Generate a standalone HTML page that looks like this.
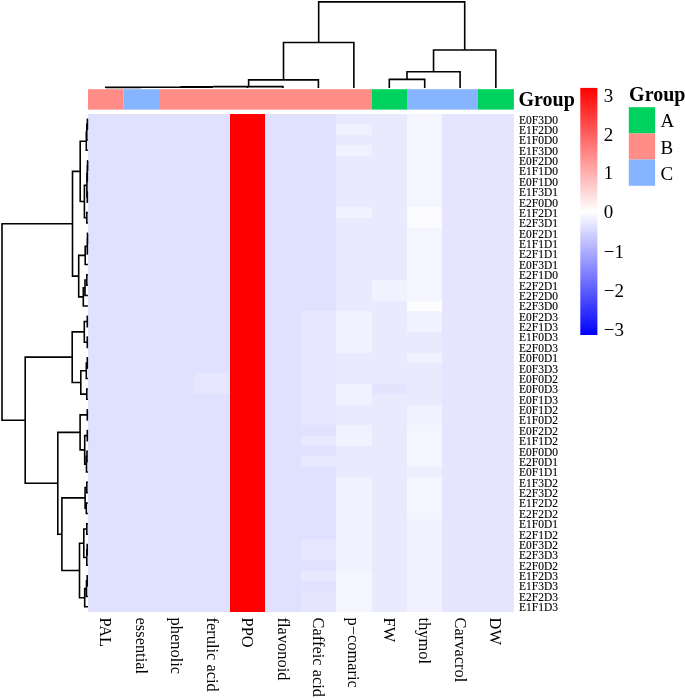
<!DOCTYPE html>
<html><head><meta charset="utf-8"><title>heatmap</title>
<style>
html,body{margin:0;padding:0;background:#fff;}
body{width:685px;height:698px;overflow:hidden;}
svg{display:block;will-change:transform;}
text{font-family:"Liberation Serif",serif;fill:#000;}
.rl{stroke:#000;stroke-width:0.12px;}
</style></head><body>
<svg width="685" height="698" viewBox="0 0 685 698">
<defs>
<linearGradient id="cb" x1="0" y1="0" x2="0" y2="1">
<stop offset="0" stop-color="#ff0000"/>
<stop offset="0.5" stop-color="#ffffff"/>
<stop offset="1" stop-color="#0000ff"/>
</linearGradient>
</defs>
<rect width="685" height="698" fill="#fff"/>

<g shape-rendering="crispEdges">
<rect x="88.00" y="114.00" width="35.55" height="10.43" fill="#e0e0ff"/>
<rect x="123.50" y="114.00" width="35.55" height="10.43" fill="#e0e0ff"/>
<rect x="159.00" y="114.00" width="35.45" height="10.43" fill="#e0e0ff"/>
<rect x="194.40" y="114.00" width="35.45" height="10.43" fill="#e0e0ff"/>
<rect x="229.80" y="114.00" width="35.45" height="10.43" fill="#ff0000"/>
<rect x="265.20" y="114.00" width="35.55" height="10.43" fill="#e0e0ff"/>
<rect x="300.70" y="114.00" width="35.45" height="10.43" fill="#e0e0ff"/>
<rect x="336.10" y="114.00" width="35.55" height="10.43" fill="#e8e8ff"/>
<rect x="371.60" y="114.00" width="35.45" height="10.43" fill="#eaeaff"/>
<rect x="407.00" y="114.00" width="35.45" height="10.43" fill="#f5f5ff"/>
<rect x="442.40" y="114.00" width="35.45" height="10.43" fill="#e5e5ff"/>
<rect x="477.80" y="114.00" width="36.15" height="10.43" fill="#e5e5ff"/>
<rect x="88.00" y="124.38" width="35.55" height="10.43" fill="#e0e0ff"/>
<rect x="123.50" y="124.38" width="35.55" height="10.43" fill="#e0e0ff"/>
<rect x="159.00" y="124.38" width="35.45" height="10.43" fill="#e0e0ff"/>
<rect x="194.40" y="124.38" width="35.45" height="10.43" fill="#e0e0ff"/>
<rect x="229.80" y="124.38" width="35.45" height="10.43" fill="#ff0000"/>
<rect x="265.20" y="124.38" width="35.55" height="10.43" fill="#e0e0ff"/>
<rect x="300.70" y="124.38" width="35.45" height="10.43" fill="#e0e0ff"/>
<rect x="336.10" y="124.38" width="35.55" height="10.43" fill="#f1f1ff"/>
<rect x="371.60" y="124.38" width="35.45" height="10.43" fill="#eaeaff"/>
<rect x="407.00" y="124.38" width="35.45" height="10.43" fill="#f5f5ff"/>
<rect x="442.40" y="124.38" width="35.45" height="10.43" fill="#e5e5ff"/>
<rect x="477.80" y="124.38" width="36.15" height="10.43" fill="#e5e5ff"/>
<rect x="88.00" y="134.75" width="35.55" height="10.43" fill="#e0e0ff"/>
<rect x="123.50" y="134.75" width="35.55" height="10.43" fill="#e0e0ff"/>
<rect x="159.00" y="134.75" width="35.45" height="10.43" fill="#e0e0ff"/>
<rect x="194.40" y="134.75" width="35.45" height="10.43" fill="#e0e0ff"/>
<rect x="229.80" y="134.75" width="35.45" height="10.43" fill="#ff0000"/>
<rect x="265.20" y="134.75" width="35.55" height="10.43" fill="#e0e0ff"/>
<rect x="300.70" y="134.75" width="35.45" height="10.43" fill="#e0e0ff"/>
<rect x="336.10" y="134.75" width="35.55" height="10.43" fill="#eaeaff"/>
<rect x="371.60" y="134.75" width="35.45" height="10.43" fill="#eaeaff"/>
<rect x="407.00" y="134.75" width="35.45" height="10.43" fill="#f5f5ff"/>
<rect x="442.40" y="134.75" width="35.45" height="10.43" fill="#e5e5ff"/>
<rect x="477.80" y="134.75" width="36.15" height="10.43" fill="#e5e5ff"/>
<rect x="88.00" y="145.12" width="35.55" height="10.43" fill="#e0e0ff"/>
<rect x="123.50" y="145.12" width="35.55" height="10.43" fill="#e0e0ff"/>
<rect x="159.00" y="145.12" width="35.45" height="10.43" fill="#e0e0ff"/>
<rect x="194.40" y="145.12" width="35.45" height="10.43" fill="#e0e0ff"/>
<rect x="229.80" y="145.12" width="35.45" height="10.43" fill="#ff0000"/>
<rect x="265.20" y="145.12" width="35.55" height="10.43" fill="#e0e0ff"/>
<rect x="300.70" y="145.12" width="35.45" height="10.43" fill="#e0e0ff"/>
<rect x="336.10" y="145.12" width="35.55" height="10.43" fill="#f1f1ff"/>
<rect x="371.60" y="145.12" width="35.45" height="10.43" fill="#eaeaff"/>
<rect x="407.00" y="145.12" width="35.45" height="10.43" fill="#f5f5ff"/>
<rect x="442.40" y="145.12" width="35.45" height="10.43" fill="#e5e5ff"/>
<rect x="477.80" y="145.12" width="36.15" height="10.43" fill="#e5e5ff"/>
<rect x="88.00" y="155.50" width="35.55" height="10.43" fill="#e0e0ff"/>
<rect x="123.50" y="155.50" width="35.55" height="10.43" fill="#e0e0ff"/>
<rect x="159.00" y="155.50" width="35.45" height="10.43" fill="#e0e0ff"/>
<rect x="194.40" y="155.50" width="35.45" height="10.43" fill="#e0e0ff"/>
<rect x="229.80" y="155.50" width="35.45" height="10.43" fill="#ff0000"/>
<rect x="265.20" y="155.50" width="35.55" height="10.43" fill="#e0e0ff"/>
<rect x="300.70" y="155.50" width="35.45" height="10.43" fill="#e0e0ff"/>
<rect x="336.10" y="155.50" width="35.55" height="10.43" fill="#eaeaff"/>
<rect x="371.60" y="155.50" width="35.45" height="10.43" fill="#eaeaff"/>
<rect x="407.00" y="155.50" width="35.45" height="10.43" fill="#f5f5ff"/>
<rect x="442.40" y="155.50" width="35.45" height="10.43" fill="#e5e5ff"/>
<rect x="477.80" y="155.50" width="36.15" height="10.43" fill="#e5e5ff"/>
<rect x="88.00" y="165.88" width="35.55" height="10.43" fill="#e0e0ff"/>
<rect x="123.50" y="165.88" width="35.55" height="10.43" fill="#e0e0ff"/>
<rect x="159.00" y="165.88" width="35.45" height="10.43" fill="#e0e0ff"/>
<rect x="194.40" y="165.88" width="35.45" height="10.43" fill="#e0e0ff"/>
<rect x="229.80" y="165.88" width="35.45" height="10.43" fill="#ff0000"/>
<rect x="265.20" y="165.88" width="35.55" height="10.43" fill="#e0e0ff"/>
<rect x="300.70" y="165.88" width="35.45" height="10.43" fill="#e0e0ff"/>
<rect x="336.10" y="165.88" width="35.55" height="10.43" fill="#eaeaff"/>
<rect x="371.60" y="165.88" width="35.45" height="10.43" fill="#eaeaff"/>
<rect x="407.00" y="165.88" width="35.45" height="10.43" fill="#f5f5ff"/>
<rect x="442.40" y="165.88" width="35.45" height="10.43" fill="#e5e5ff"/>
<rect x="477.80" y="165.88" width="36.15" height="10.43" fill="#e5e5ff"/>
<rect x="88.00" y="176.25" width="35.55" height="10.43" fill="#e0e0ff"/>
<rect x="123.50" y="176.25" width="35.55" height="10.43" fill="#e0e0ff"/>
<rect x="159.00" y="176.25" width="35.45" height="10.43" fill="#e0e0ff"/>
<rect x="194.40" y="176.25" width="35.45" height="10.43" fill="#e0e0ff"/>
<rect x="229.80" y="176.25" width="35.45" height="10.43" fill="#ff0000"/>
<rect x="265.20" y="176.25" width="35.55" height="10.43" fill="#e0e0ff"/>
<rect x="300.70" y="176.25" width="35.45" height="10.43" fill="#e0e0ff"/>
<rect x="336.10" y="176.25" width="35.55" height="10.43" fill="#eaeaff"/>
<rect x="371.60" y="176.25" width="35.45" height="10.43" fill="#eaeaff"/>
<rect x="407.00" y="176.25" width="35.45" height="10.43" fill="#f5f5ff"/>
<rect x="442.40" y="176.25" width="35.45" height="10.43" fill="#e5e5ff"/>
<rect x="477.80" y="176.25" width="36.15" height="10.43" fill="#e5e5ff"/>
<rect x="88.00" y="186.62" width="35.55" height="10.43" fill="#e0e0ff"/>
<rect x="123.50" y="186.62" width="35.55" height="10.43" fill="#e0e0ff"/>
<rect x="159.00" y="186.62" width="35.45" height="10.43" fill="#e0e0ff"/>
<rect x="194.40" y="186.62" width="35.45" height="10.43" fill="#e0e0ff"/>
<rect x="229.80" y="186.62" width="35.45" height="10.43" fill="#ff0000"/>
<rect x="265.20" y="186.62" width="35.55" height="10.43" fill="#e0e0ff"/>
<rect x="300.70" y="186.62" width="35.45" height="10.43" fill="#e0e0ff"/>
<rect x="336.10" y="186.62" width="35.55" height="10.43" fill="#eaeaff"/>
<rect x="371.60" y="186.62" width="35.45" height="10.43" fill="#eaeaff"/>
<rect x="407.00" y="186.62" width="35.45" height="10.43" fill="#f5f5ff"/>
<rect x="442.40" y="186.62" width="35.45" height="10.43" fill="#e5e5ff"/>
<rect x="477.80" y="186.62" width="36.15" height="10.43" fill="#e5e5ff"/>
<rect x="88.00" y="197.00" width="35.55" height="10.43" fill="#e0e0ff"/>
<rect x="123.50" y="197.00" width="35.55" height="10.43" fill="#e0e0ff"/>
<rect x="159.00" y="197.00" width="35.45" height="10.43" fill="#e0e0ff"/>
<rect x="194.40" y="197.00" width="35.45" height="10.43" fill="#e0e0ff"/>
<rect x="229.80" y="197.00" width="35.45" height="10.43" fill="#ff0000"/>
<rect x="265.20" y="197.00" width="35.55" height="10.43" fill="#e0e0ff"/>
<rect x="300.70" y="197.00" width="35.45" height="10.43" fill="#e0e0ff"/>
<rect x="336.10" y="197.00" width="35.55" height="10.43" fill="#eaeaff"/>
<rect x="371.60" y="197.00" width="35.45" height="10.43" fill="#eaeaff"/>
<rect x="407.00" y="197.00" width="35.45" height="10.43" fill="#f5f5ff"/>
<rect x="442.40" y="197.00" width="35.45" height="10.43" fill="#e5e5ff"/>
<rect x="477.80" y="197.00" width="36.15" height="10.43" fill="#e5e5ff"/>
<rect x="88.00" y="207.38" width="35.55" height="10.43" fill="#e0e0ff"/>
<rect x="123.50" y="207.38" width="35.55" height="10.43" fill="#e0e0ff"/>
<rect x="159.00" y="207.38" width="35.45" height="10.43" fill="#e0e0ff"/>
<rect x="194.40" y="207.38" width="35.45" height="10.43" fill="#e0e0ff"/>
<rect x="229.80" y="207.38" width="35.45" height="10.43" fill="#ff0000"/>
<rect x="265.20" y="207.38" width="35.55" height="10.43" fill="#e0e0ff"/>
<rect x="300.70" y="207.38" width="35.45" height="10.43" fill="#e0e0ff"/>
<rect x="336.10" y="207.38" width="35.55" height="10.43" fill="#f1f1ff"/>
<rect x="371.60" y="207.38" width="35.45" height="10.43" fill="#eaeaff"/>
<rect x="407.00" y="207.38" width="35.45" height="10.43" fill="#fbfbff"/>
<rect x="442.40" y="207.38" width="35.45" height="10.43" fill="#e5e5ff"/>
<rect x="477.80" y="207.38" width="36.15" height="10.43" fill="#e5e5ff"/>
<rect x="88.00" y="217.75" width="35.55" height="10.43" fill="#e0e0ff"/>
<rect x="123.50" y="217.75" width="35.55" height="10.43" fill="#e0e0ff"/>
<rect x="159.00" y="217.75" width="35.45" height="10.43" fill="#e0e0ff"/>
<rect x="194.40" y="217.75" width="35.45" height="10.43" fill="#e0e0ff"/>
<rect x="229.80" y="217.75" width="35.45" height="10.43" fill="#ff0000"/>
<rect x="265.20" y="217.75" width="35.55" height="10.43" fill="#e0e0ff"/>
<rect x="300.70" y="217.75" width="35.45" height="10.43" fill="#e0e0ff"/>
<rect x="336.10" y="217.75" width="35.55" height="10.43" fill="#eaeaff"/>
<rect x="371.60" y="217.75" width="35.45" height="10.43" fill="#eaeaff"/>
<rect x="407.00" y="217.75" width="35.45" height="10.43" fill="#fbfbff"/>
<rect x="442.40" y="217.75" width="35.45" height="10.43" fill="#e5e5ff"/>
<rect x="477.80" y="217.75" width="36.15" height="10.43" fill="#e5e5ff"/>
<rect x="88.00" y="228.12" width="35.55" height="10.43" fill="#e0e0ff"/>
<rect x="123.50" y="228.12" width="35.55" height="10.43" fill="#e0e0ff"/>
<rect x="159.00" y="228.12" width="35.45" height="10.43" fill="#e0e0ff"/>
<rect x="194.40" y="228.12" width="35.45" height="10.43" fill="#e0e0ff"/>
<rect x="229.80" y="228.12" width="35.45" height="10.43" fill="#ff0000"/>
<rect x="265.20" y="228.12" width="35.55" height="10.43" fill="#e0e0ff"/>
<rect x="300.70" y="228.12" width="35.45" height="10.43" fill="#e0e0ff"/>
<rect x="336.10" y="228.12" width="35.55" height="10.43" fill="#eaeaff"/>
<rect x="371.60" y="228.12" width="35.45" height="10.43" fill="#eaeaff"/>
<rect x="407.00" y="228.12" width="35.45" height="10.43" fill="#f5f5ff"/>
<rect x="442.40" y="228.12" width="35.45" height="10.43" fill="#e5e5ff"/>
<rect x="477.80" y="228.12" width="36.15" height="10.43" fill="#e5e5ff"/>
<rect x="88.00" y="238.50" width="35.55" height="10.43" fill="#e0e0ff"/>
<rect x="123.50" y="238.50" width="35.55" height="10.43" fill="#e0e0ff"/>
<rect x="159.00" y="238.50" width="35.45" height="10.43" fill="#e0e0ff"/>
<rect x="194.40" y="238.50" width="35.45" height="10.43" fill="#e0e0ff"/>
<rect x="229.80" y="238.50" width="35.45" height="10.43" fill="#ff0000"/>
<rect x="265.20" y="238.50" width="35.55" height="10.43" fill="#e0e0ff"/>
<rect x="300.70" y="238.50" width="35.45" height="10.43" fill="#e0e0ff"/>
<rect x="336.10" y="238.50" width="35.55" height="10.43" fill="#eaeaff"/>
<rect x="371.60" y="238.50" width="35.45" height="10.43" fill="#eaeaff"/>
<rect x="407.00" y="238.50" width="35.45" height="10.43" fill="#f5f5ff"/>
<rect x="442.40" y="238.50" width="35.45" height="10.43" fill="#e5e5ff"/>
<rect x="477.80" y="238.50" width="36.15" height="10.43" fill="#e5e5ff"/>
<rect x="88.00" y="248.88" width="35.55" height="10.43" fill="#e0e0ff"/>
<rect x="123.50" y="248.88" width="35.55" height="10.43" fill="#e0e0ff"/>
<rect x="159.00" y="248.88" width="35.45" height="10.43" fill="#e0e0ff"/>
<rect x="194.40" y="248.88" width="35.45" height="10.43" fill="#e0e0ff"/>
<rect x="229.80" y="248.88" width="35.45" height="10.43" fill="#ff0000"/>
<rect x="265.20" y="248.88" width="35.55" height="10.43" fill="#e0e0ff"/>
<rect x="300.70" y="248.88" width="35.45" height="10.43" fill="#e0e0ff"/>
<rect x="336.10" y="248.88" width="35.55" height="10.43" fill="#eaeaff"/>
<rect x="371.60" y="248.88" width="35.45" height="10.43" fill="#eaeaff"/>
<rect x="407.00" y="248.88" width="35.45" height="10.43" fill="#f5f5ff"/>
<rect x="442.40" y="248.88" width="35.45" height="10.43" fill="#e5e5ff"/>
<rect x="477.80" y="248.88" width="36.15" height="10.43" fill="#e5e5ff"/>
<rect x="88.00" y="259.25" width="35.55" height="10.43" fill="#e0e0ff"/>
<rect x="123.50" y="259.25" width="35.55" height="10.43" fill="#e0e0ff"/>
<rect x="159.00" y="259.25" width="35.45" height="10.43" fill="#e0e0ff"/>
<rect x="194.40" y="259.25" width="35.45" height="10.43" fill="#e0e0ff"/>
<rect x="229.80" y="259.25" width="35.45" height="10.43" fill="#ff0000"/>
<rect x="265.20" y="259.25" width="35.55" height="10.43" fill="#e0e0ff"/>
<rect x="300.70" y="259.25" width="35.45" height="10.43" fill="#e0e0ff"/>
<rect x="336.10" y="259.25" width="35.55" height="10.43" fill="#eaeaff"/>
<rect x="371.60" y="259.25" width="35.45" height="10.43" fill="#eaeaff"/>
<rect x="407.00" y="259.25" width="35.45" height="10.43" fill="#f5f5ff"/>
<rect x="442.40" y="259.25" width="35.45" height="10.43" fill="#e5e5ff"/>
<rect x="477.80" y="259.25" width="36.15" height="10.43" fill="#e5e5ff"/>
<rect x="88.00" y="269.62" width="35.55" height="10.43" fill="#e0e0ff"/>
<rect x="123.50" y="269.62" width="35.55" height="10.43" fill="#e0e0ff"/>
<rect x="159.00" y="269.62" width="35.45" height="10.43" fill="#e0e0ff"/>
<rect x="194.40" y="269.62" width="35.45" height="10.43" fill="#e0e0ff"/>
<rect x="229.80" y="269.62" width="35.45" height="10.43" fill="#ff0000"/>
<rect x="265.20" y="269.62" width="35.55" height="10.43" fill="#e0e0ff"/>
<rect x="300.70" y="269.62" width="35.45" height="10.43" fill="#e0e0ff"/>
<rect x="336.10" y="269.62" width="35.55" height="10.43" fill="#eaeaff"/>
<rect x="371.60" y="269.62" width="35.45" height="10.43" fill="#eaeaff"/>
<rect x="407.00" y="269.62" width="35.45" height="10.43" fill="#f5f5ff"/>
<rect x="442.40" y="269.62" width="35.45" height="10.43" fill="#e5e5ff"/>
<rect x="477.80" y="269.62" width="36.15" height="10.43" fill="#e5e5ff"/>
<rect x="88.00" y="280.00" width="35.55" height="10.43" fill="#e0e0ff"/>
<rect x="123.50" y="280.00" width="35.55" height="10.43" fill="#e0e0ff"/>
<rect x="159.00" y="280.00" width="35.45" height="10.43" fill="#e0e0ff"/>
<rect x="194.40" y="280.00" width="35.45" height="10.43" fill="#e0e0ff"/>
<rect x="229.80" y="280.00" width="35.45" height="10.43" fill="#ff0000"/>
<rect x="265.20" y="280.00" width="35.55" height="10.43" fill="#e0e0ff"/>
<rect x="300.70" y="280.00" width="35.45" height="10.43" fill="#e0e0ff"/>
<rect x="336.10" y="280.00" width="35.55" height="10.43" fill="#eaeaff"/>
<rect x="371.60" y="280.00" width="35.45" height="10.43" fill="#f1f1ff"/>
<rect x="407.00" y="280.00" width="35.45" height="10.43" fill="#f5f5ff"/>
<rect x="442.40" y="280.00" width="35.45" height="10.43" fill="#e5e5ff"/>
<rect x="477.80" y="280.00" width="36.15" height="10.43" fill="#e5e5ff"/>
<rect x="88.00" y="290.38" width="35.55" height="10.43" fill="#e0e0ff"/>
<rect x="123.50" y="290.38" width="35.55" height="10.43" fill="#e0e0ff"/>
<rect x="159.00" y="290.38" width="35.45" height="10.43" fill="#e0e0ff"/>
<rect x="194.40" y="290.38" width="35.45" height="10.43" fill="#e0e0ff"/>
<rect x="229.80" y="290.38" width="35.45" height="10.43" fill="#ff0000"/>
<rect x="265.20" y="290.38" width="35.55" height="10.43" fill="#e0e0ff"/>
<rect x="300.70" y="290.38" width="35.45" height="10.43" fill="#e0e0ff"/>
<rect x="336.10" y="290.38" width="35.55" height="10.43" fill="#eaeaff"/>
<rect x="371.60" y="290.38" width="35.45" height="10.43" fill="#f1f1ff"/>
<rect x="407.00" y="290.38" width="35.45" height="10.43" fill="#f5f5ff"/>
<rect x="442.40" y="290.38" width="35.45" height="10.43" fill="#e5e5ff"/>
<rect x="477.80" y="290.38" width="36.15" height="10.43" fill="#e5e5ff"/>
<rect x="88.00" y="300.75" width="35.55" height="10.43" fill="#e0e0ff"/>
<rect x="123.50" y="300.75" width="35.55" height="10.43" fill="#e0e0ff"/>
<rect x="159.00" y="300.75" width="35.45" height="10.43" fill="#e0e0ff"/>
<rect x="194.40" y="300.75" width="35.45" height="10.43" fill="#e0e0ff"/>
<rect x="229.80" y="300.75" width="35.45" height="10.43" fill="#ff0000"/>
<rect x="265.20" y="300.75" width="35.55" height="10.43" fill="#e0e0ff"/>
<rect x="300.70" y="300.75" width="35.45" height="10.43" fill="#e0e0ff"/>
<rect x="336.10" y="300.75" width="35.55" height="10.43" fill="#eaeaff"/>
<rect x="371.60" y="300.75" width="35.45" height="10.43" fill="#eaeaff"/>
<rect x="407.00" y="300.75" width="35.45" height="10.43" fill="#fdfdff"/>
<rect x="442.40" y="300.75" width="35.45" height="10.43" fill="#e5e5ff"/>
<rect x="477.80" y="300.75" width="36.15" height="10.43" fill="#e5e5ff"/>
<rect x="88.00" y="311.12" width="35.55" height="10.43" fill="#e0e0ff"/>
<rect x="123.50" y="311.12" width="35.55" height="10.43" fill="#e0e0ff"/>
<rect x="159.00" y="311.12" width="35.45" height="10.43" fill="#e0e0ff"/>
<rect x="194.40" y="311.12" width="35.45" height="10.43" fill="#e0e0ff"/>
<rect x="229.80" y="311.12" width="35.45" height="10.43" fill="#ff0000"/>
<rect x="265.20" y="311.12" width="35.55" height="10.43" fill="#e0e0ff"/>
<rect x="300.70" y="311.12" width="35.45" height="10.43" fill="#e6e6ff"/>
<rect x="336.10" y="311.12" width="35.55" height="10.43" fill="#f1f1ff"/>
<rect x="371.60" y="311.12" width="35.45" height="10.43" fill="#eaeaff"/>
<rect x="407.00" y="311.12" width="35.45" height="10.43" fill="#f1f1ff"/>
<rect x="442.40" y="311.12" width="35.45" height="10.43" fill="#e5e5ff"/>
<rect x="477.80" y="311.12" width="36.15" height="10.43" fill="#e5e5ff"/>
<rect x="88.00" y="321.50" width="35.55" height="10.43" fill="#e0e0ff"/>
<rect x="123.50" y="321.50" width="35.55" height="10.43" fill="#e0e0ff"/>
<rect x="159.00" y="321.50" width="35.45" height="10.43" fill="#e0e0ff"/>
<rect x="194.40" y="321.50" width="35.45" height="10.43" fill="#e0e0ff"/>
<rect x="229.80" y="321.50" width="35.45" height="10.43" fill="#ff0000"/>
<rect x="265.20" y="321.50" width="35.55" height="10.43" fill="#e0e0ff"/>
<rect x="300.70" y="321.50" width="35.45" height="10.43" fill="#e6e6ff"/>
<rect x="336.10" y="321.50" width="35.55" height="10.43" fill="#f1f1ff"/>
<rect x="371.60" y="321.50" width="35.45" height="10.43" fill="#eaeaff"/>
<rect x="407.00" y="321.50" width="35.45" height="10.43" fill="#f1f1ff"/>
<rect x="442.40" y="321.50" width="35.45" height="10.43" fill="#e5e5ff"/>
<rect x="477.80" y="321.50" width="36.15" height="10.43" fill="#e5e5ff"/>
<rect x="88.00" y="331.88" width="35.55" height="10.43" fill="#e0e0ff"/>
<rect x="123.50" y="331.88" width="35.55" height="10.43" fill="#e0e0ff"/>
<rect x="159.00" y="331.88" width="35.45" height="10.43" fill="#e0e0ff"/>
<rect x="194.40" y="331.88" width="35.45" height="10.43" fill="#e0e0ff"/>
<rect x="229.80" y="331.88" width="35.45" height="10.43" fill="#ff0000"/>
<rect x="265.20" y="331.88" width="35.55" height="10.43" fill="#e0e0ff"/>
<rect x="300.70" y="331.88" width="35.45" height="10.43" fill="#e6e6ff"/>
<rect x="336.10" y="331.88" width="35.55" height="10.43" fill="#f1f1ff"/>
<rect x="371.60" y="331.88" width="35.45" height="10.43" fill="#eaeaff"/>
<rect x="407.00" y="331.88" width="35.45" height="10.43" fill="#eaeaff"/>
<rect x="442.40" y="331.88" width="35.45" height="10.43" fill="#e5e5ff"/>
<rect x="477.80" y="331.88" width="36.15" height="10.43" fill="#e5e5ff"/>
<rect x="88.00" y="342.25" width="35.55" height="10.43" fill="#e0e0ff"/>
<rect x="123.50" y="342.25" width="35.55" height="10.43" fill="#e0e0ff"/>
<rect x="159.00" y="342.25" width="35.45" height="10.43" fill="#e0e0ff"/>
<rect x="194.40" y="342.25" width="35.45" height="10.43" fill="#e0e0ff"/>
<rect x="229.80" y="342.25" width="35.45" height="10.43" fill="#ff0000"/>
<rect x="265.20" y="342.25" width="35.55" height="10.43" fill="#e0e0ff"/>
<rect x="300.70" y="342.25" width="35.45" height="10.43" fill="#e6e6ff"/>
<rect x="336.10" y="342.25" width="35.55" height="10.43" fill="#f1f1ff"/>
<rect x="371.60" y="342.25" width="35.45" height="10.43" fill="#eaeaff"/>
<rect x="407.00" y="342.25" width="35.45" height="10.43" fill="#eaeaff"/>
<rect x="442.40" y="342.25" width="35.45" height="10.43" fill="#e5e5ff"/>
<rect x="477.80" y="342.25" width="36.15" height="10.43" fill="#e5e5ff"/>
<rect x="88.00" y="352.62" width="35.55" height="10.43" fill="#e0e0ff"/>
<rect x="123.50" y="352.62" width="35.55" height="10.43" fill="#e0e0ff"/>
<rect x="159.00" y="352.62" width="35.45" height="10.43" fill="#e0e0ff"/>
<rect x="194.40" y="352.62" width="35.45" height="10.43" fill="#e0e0ff"/>
<rect x="229.80" y="352.62" width="35.45" height="10.43" fill="#ff0000"/>
<rect x="265.20" y="352.62" width="35.55" height="10.43" fill="#e0e0ff"/>
<rect x="300.70" y="352.62" width="35.45" height="10.43" fill="#e6e6ff"/>
<rect x="336.10" y="352.62" width="35.55" height="10.43" fill="#eaeaff"/>
<rect x="371.60" y="352.62" width="35.45" height="10.43" fill="#eaeaff"/>
<rect x="407.00" y="352.62" width="35.45" height="10.43" fill="#f2f2ff"/>
<rect x="442.40" y="352.62" width="35.45" height="10.43" fill="#e5e5ff"/>
<rect x="477.80" y="352.62" width="36.15" height="10.43" fill="#e5e5ff"/>
<rect x="88.00" y="363.00" width="35.55" height="10.43" fill="#e0e0ff"/>
<rect x="123.50" y="363.00" width="35.55" height="10.43" fill="#e0e0ff"/>
<rect x="159.00" y="363.00" width="35.45" height="10.43" fill="#e0e0ff"/>
<rect x="194.40" y="363.00" width="35.45" height="10.43" fill="#e0e0ff"/>
<rect x="229.80" y="363.00" width="35.45" height="10.43" fill="#ff0000"/>
<rect x="265.20" y="363.00" width="35.55" height="10.43" fill="#e0e0ff"/>
<rect x="300.70" y="363.00" width="35.45" height="10.43" fill="#e6e6ff"/>
<rect x="336.10" y="363.00" width="35.55" height="10.43" fill="#eaeaff"/>
<rect x="371.60" y="363.00" width="35.45" height="10.43" fill="#eaeaff"/>
<rect x="407.00" y="363.00" width="35.45" height="10.43" fill="#eaeaff"/>
<rect x="442.40" y="363.00" width="35.45" height="10.43" fill="#e5e5ff"/>
<rect x="477.80" y="363.00" width="36.15" height="10.43" fill="#e5e5ff"/>
<rect x="88.00" y="373.38" width="35.55" height="10.43" fill="#e0e0ff"/>
<rect x="123.50" y="373.38" width="35.55" height="10.43" fill="#e0e0ff"/>
<rect x="159.00" y="373.38" width="35.45" height="10.43" fill="#e0e0ff"/>
<rect x="194.40" y="373.38" width="35.45" height="10.43" fill="#e6e6ff"/>
<rect x="229.80" y="373.38" width="35.45" height="10.43" fill="#ff0000"/>
<rect x="265.20" y="373.38" width="35.55" height="10.43" fill="#e0e0ff"/>
<rect x="300.70" y="373.38" width="35.45" height="10.43" fill="#e6e6ff"/>
<rect x="336.10" y="373.38" width="35.55" height="10.43" fill="#eaeaff"/>
<rect x="371.60" y="373.38" width="35.45" height="10.43" fill="#eaeaff"/>
<rect x="407.00" y="373.38" width="35.45" height="10.43" fill="#eaeaff"/>
<rect x="442.40" y="373.38" width="35.45" height="10.43" fill="#e5e5ff"/>
<rect x="477.80" y="373.38" width="36.15" height="10.43" fill="#e5e5ff"/>
<rect x="88.00" y="383.75" width="35.55" height="10.43" fill="#e0e0ff"/>
<rect x="123.50" y="383.75" width="35.55" height="10.43" fill="#e0e0ff"/>
<rect x="159.00" y="383.75" width="35.45" height="10.43" fill="#e0e0ff"/>
<rect x="194.40" y="383.75" width="35.45" height="10.43" fill="#e6e6ff"/>
<rect x="229.80" y="383.75" width="35.45" height="10.43" fill="#ff0000"/>
<rect x="265.20" y="383.75" width="35.55" height="10.43" fill="#e0e0ff"/>
<rect x="300.70" y="383.75" width="35.45" height="10.43" fill="#e6e6ff"/>
<rect x="336.10" y="383.75" width="35.55" height="10.43" fill="#f1f1ff"/>
<rect x="371.60" y="383.75" width="35.45" height="10.43" fill="#e4e4ff"/>
<rect x="407.00" y="383.75" width="35.45" height="10.43" fill="#eaeaff"/>
<rect x="442.40" y="383.75" width="35.45" height="10.43" fill="#e5e5ff"/>
<rect x="477.80" y="383.75" width="36.15" height="10.43" fill="#e5e5ff"/>
<rect x="88.00" y="394.12" width="35.55" height="10.43" fill="#e0e0ff"/>
<rect x="123.50" y="394.12" width="35.55" height="10.43" fill="#e0e0ff"/>
<rect x="159.00" y="394.12" width="35.45" height="10.43" fill="#e0e0ff"/>
<rect x="194.40" y="394.12" width="35.45" height="10.43" fill="#e0e0ff"/>
<rect x="229.80" y="394.12" width="35.45" height="10.43" fill="#ff0000"/>
<rect x="265.20" y="394.12" width="35.55" height="10.43" fill="#e0e0ff"/>
<rect x="300.70" y="394.12" width="35.45" height="10.43" fill="#e6e6ff"/>
<rect x="336.10" y="394.12" width="35.55" height="10.43" fill="#f1f1ff"/>
<rect x="371.60" y="394.12" width="35.45" height="10.43" fill="#eaeaff"/>
<rect x="407.00" y="394.12" width="35.45" height="10.43" fill="#eaeaff"/>
<rect x="442.40" y="394.12" width="35.45" height="10.43" fill="#e5e5ff"/>
<rect x="477.80" y="394.12" width="36.15" height="10.43" fill="#e5e5ff"/>
<rect x="88.00" y="404.50" width="35.55" height="10.43" fill="#e0e0ff"/>
<rect x="123.50" y="404.50" width="35.55" height="10.43" fill="#e0e0ff"/>
<rect x="159.00" y="404.50" width="35.45" height="10.43" fill="#e0e0ff"/>
<rect x="194.40" y="404.50" width="35.45" height="10.43" fill="#e0e0ff"/>
<rect x="229.80" y="404.50" width="35.45" height="10.43" fill="#ff0000"/>
<rect x="265.20" y="404.50" width="35.55" height="10.43" fill="#e0e0ff"/>
<rect x="300.70" y="404.50" width="35.45" height="10.43" fill="#e6e6ff"/>
<rect x="336.10" y="404.50" width="35.55" height="10.43" fill="#eaeaff"/>
<rect x="371.60" y="404.50" width="35.45" height="10.43" fill="#eaeaff"/>
<rect x="407.00" y="404.50" width="35.45" height="10.43" fill="#f1f1ff"/>
<rect x="442.40" y="404.50" width="35.45" height="10.43" fill="#e5e5ff"/>
<rect x="477.80" y="404.50" width="36.15" height="10.43" fill="#e5e5ff"/>
<rect x="88.00" y="414.88" width="35.55" height="10.43" fill="#e0e0ff"/>
<rect x="123.50" y="414.88" width="35.55" height="10.43" fill="#e0e0ff"/>
<rect x="159.00" y="414.88" width="35.45" height="10.43" fill="#e0e0ff"/>
<rect x="194.40" y="414.88" width="35.45" height="10.43" fill="#e0e0ff"/>
<rect x="229.80" y="414.88" width="35.45" height="10.43" fill="#ff0000"/>
<rect x="265.20" y="414.88" width="35.55" height="10.43" fill="#e0e0ff"/>
<rect x="300.70" y="414.88" width="35.45" height="10.43" fill="#e6e6ff"/>
<rect x="336.10" y="414.88" width="35.55" height="10.43" fill="#eaeaff"/>
<rect x="371.60" y="414.88" width="35.45" height="10.43" fill="#eaeaff"/>
<rect x="407.00" y="414.88" width="35.45" height="10.43" fill="#f1f1ff"/>
<rect x="442.40" y="414.88" width="35.45" height="10.43" fill="#e5e5ff"/>
<rect x="477.80" y="414.88" width="36.15" height="10.43" fill="#e5e5ff"/>
<rect x="88.00" y="425.25" width="35.55" height="10.43" fill="#e0e0ff"/>
<rect x="123.50" y="425.25" width="35.55" height="10.43" fill="#e0e0ff"/>
<rect x="159.00" y="425.25" width="35.45" height="10.43" fill="#e0e0ff"/>
<rect x="194.40" y="425.25" width="35.45" height="10.43" fill="#e0e0ff"/>
<rect x="229.80" y="425.25" width="35.45" height="10.43" fill="#ff0000"/>
<rect x="265.20" y="425.25" width="35.55" height="10.43" fill="#e0e0ff"/>
<rect x="300.70" y="425.25" width="35.45" height="10.43" fill="#e2e2ff"/>
<rect x="336.10" y="425.25" width="35.55" height="10.43" fill="#f1f1ff"/>
<rect x="371.60" y="425.25" width="35.45" height="10.43" fill="#eaeaff"/>
<rect x="407.00" y="425.25" width="35.45" height="10.43" fill="#f5f5ff"/>
<rect x="442.40" y="425.25" width="35.45" height="10.43" fill="#e5e5ff"/>
<rect x="477.80" y="425.25" width="36.15" height="10.43" fill="#e5e5ff"/>
<rect x="88.00" y="435.62" width="35.55" height="10.43" fill="#e0e0ff"/>
<rect x="123.50" y="435.62" width="35.55" height="10.43" fill="#e0e0ff"/>
<rect x="159.00" y="435.62" width="35.45" height="10.43" fill="#e0e0ff"/>
<rect x="194.40" y="435.62" width="35.45" height="10.43" fill="#e0e0ff"/>
<rect x="229.80" y="435.62" width="35.45" height="10.43" fill="#ff0000"/>
<rect x="265.20" y="435.62" width="35.55" height="10.43" fill="#e0e0ff"/>
<rect x="300.70" y="435.62" width="35.45" height="10.43" fill="#e8e8ff"/>
<rect x="336.10" y="435.62" width="35.55" height="10.43" fill="#f1f1ff"/>
<rect x="371.60" y="435.62" width="35.45" height="10.43" fill="#eaeaff"/>
<rect x="407.00" y="435.62" width="35.45" height="10.43" fill="#f5f5ff"/>
<rect x="442.40" y="435.62" width="35.45" height="10.43" fill="#e5e5ff"/>
<rect x="477.80" y="435.62" width="36.15" height="10.43" fill="#e5e5ff"/>
<rect x="88.00" y="446.00" width="35.55" height="10.43" fill="#e0e0ff"/>
<rect x="123.50" y="446.00" width="35.55" height="10.43" fill="#e0e0ff"/>
<rect x="159.00" y="446.00" width="35.45" height="10.43" fill="#e0e0ff"/>
<rect x="194.40" y="446.00" width="35.45" height="10.43" fill="#e0e0ff"/>
<rect x="229.80" y="446.00" width="35.45" height="10.43" fill="#ff0000"/>
<rect x="265.20" y="446.00" width="35.55" height="10.43" fill="#e0e0ff"/>
<rect x="300.70" y="446.00" width="35.45" height="10.43" fill="#e2e2ff"/>
<rect x="336.10" y="446.00" width="35.55" height="10.43" fill="#eaeaff"/>
<rect x="371.60" y="446.00" width="35.45" height="10.43" fill="#eaeaff"/>
<rect x="407.00" y="446.00" width="35.45" height="10.43" fill="#f5f5ff"/>
<rect x="442.40" y="446.00" width="35.45" height="10.43" fill="#e5e5ff"/>
<rect x="477.80" y="446.00" width="36.15" height="10.43" fill="#e5e5ff"/>
<rect x="88.00" y="456.38" width="35.55" height="10.43" fill="#e0e0ff"/>
<rect x="123.50" y="456.38" width="35.55" height="10.43" fill="#e0e0ff"/>
<rect x="159.00" y="456.38" width="35.45" height="10.43" fill="#e0e0ff"/>
<rect x="194.40" y="456.38" width="35.45" height="10.43" fill="#e0e0ff"/>
<rect x="229.80" y="456.38" width="35.45" height="10.43" fill="#ff0000"/>
<rect x="265.20" y="456.38" width="35.55" height="10.43" fill="#e0e0ff"/>
<rect x="300.70" y="456.38" width="35.45" height="10.43" fill="#e8e8ff"/>
<rect x="336.10" y="456.38" width="35.55" height="10.43" fill="#eaeaff"/>
<rect x="371.60" y="456.38" width="35.45" height="10.43" fill="#eaeaff"/>
<rect x="407.00" y="456.38" width="35.45" height="10.43" fill="#f5f5ff"/>
<rect x="442.40" y="456.38" width="35.45" height="10.43" fill="#e5e5ff"/>
<rect x="477.80" y="456.38" width="36.15" height="10.43" fill="#e5e5ff"/>
<rect x="88.00" y="466.75" width="35.55" height="10.43" fill="#e0e0ff"/>
<rect x="123.50" y="466.75" width="35.55" height="10.43" fill="#e0e0ff"/>
<rect x="159.00" y="466.75" width="35.45" height="10.43" fill="#e0e0ff"/>
<rect x="194.40" y="466.75" width="35.45" height="10.43" fill="#e0e0ff"/>
<rect x="229.80" y="466.75" width="35.45" height="10.43" fill="#ff0000"/>
<rect x="265.20" y="466.75" width="35.55" height="10.43" fill="#e0e0ff"/>
<rect x="300.70" y="466.75" width="35.45" height="10.43" fill="#e0e0ff"/>
<rect x="336.10" y="466.75" width="35.55" height="10.43" fill="#eaeaff"/>
<rect x="371.60" y="466.75" width="35.45" height="10.43" fill="#eaeaff"/>
<rect x="407.00" y="466.75" width="35.45" height="10.43" fill="#eeeeff"/>
<rect x="442.40" y="466.75" width="35.45" height="10.43" fill="#e5e5ff"/>
<rect x="477.80" y="466.75" width="36.15" height="10.43" fill="#e5e5ff"/>
<rect x="88.00" y="477.12" width="35.55" height="10.43" fill="#e0e0ff"/>
<rect x="123.50" y="477.12" width="35.55" height="10.43" fill="#e0e0ff"/>
<rect x="159.00" y="477.12" width="35.45" height="10.43" fill="#e0e0ff"/>
<rect x="194.40" y="477.12" width="35.45" height="10.43" fill="#e0e0ff"/>
<rect x="229.80" y="477.12" width="35.45" height="10.43" fill="#ff0000"/>
<rect x="265.20" y="477.12" width="35.55" height="10.43" fill="#e0e0ff"/>
<rect x="300.70" y="477.12" width="35.45" height="10.43" fill="#e0e0ff"/>
<rect x="336.10" y="477.12" width="35.55" height="10.43" fill="#f1f1ff"/>
<rect x="371.60" y="477.12" width="35.45" height="10.43" fill="#eaeaff"/>
<rect x="407.00" y="477.12" width="35.45" height="10.43" fill="#f5f5ff"/>
<rect x="442.40" y="477.12" width="35.45" height="10.43" fill="#e5e5ff"/>
<rect x="477.80" y="477.12" width="36.15" height="10.43" fill="#e5e5ff"/>
<rect x="88.00" y="487.50" width="35.55" height="10.43" fill="#e0e0ff"/>
<rect x="123.50" y="487.50" width="35.55" height="10.43" fill="#e0e0ff"/>
<rect x="159.00" y="487.50" width="35.45" height="10.43" fill="#e0e0ff"/>
<rect x="194.40" y="487.50" width="35.45" height="10.43" fill="#e0e0ff"/>
<rect x="229.80" y="487.50" width="35.45" height="10.43" fill="#ff0000"/>
<rect x="265.20" y="487.50" width="35.55" height="10.43" fill="#e0e0ff"/>
<rect x="300.70" y="487.50" width="35.45" height="10.43" fill="#e0e0ff"/>
<rect x="336.10" y="487.50" width="35.55" height="10.43" fill="#f1f1ff"/>
<rect x="371.60" y="487.50" width="35.45" height="10.43" fill="#eaeaff"/>
<rect x="407.00" y="487.50" width="35.45" height="10.43" fill="#f5f5ff"/>
<rect x="442.40" y="487.50" width="35.45" height="10.43" fill="#e5e5ff"/>
<rect x="477.80" y="487.50" width="36.15" height="10.43" fill="#e5e5ff"/>
<rect x="88.00" y="497.88" width="35.55" height="10.43" fill="#e0e0ff"/>
<rect x="123.50" y="497.88" width="35.55" height="10.43" fill="#e0e0ff"/>
<rect x="159.00" y="497.88" width="35.45" height="10.43" fill="#e0e0ff"/>
<rect x="194.40" y="497.88" width="35.45" height="10.43" fill="#e0e0ff"/>
<rect x="229.80" y="497.88" width="35.45" height="10.43" fill="#ff0000"/>
<rect x="265.20" y="497.88" width="35.55" height="10.43" fill="#e0e0ff"/>
<rect x="300.70" y="497.88" width="35.45" height="10.43" fill="#e0e0ff"/>
<rect x="336.10" y="497.88" width="35.55" height="10.43" fill="#f1f1ff"/>
<rect x="371.60" y="497.88" width="35.45" height="10.43" fill="#eaeaff"/>
<rect x="407.00" y="497.88" width="35.45" height="10.43" fill="#f5f5ff"/>
<rect x="442.40" y="497.88" width="35.45" height="10.43" fill="#e5e5ff"/>
<rect x="477.80" y="497.88" width="36.15" height="10.43" fill="#e5e5ff"/>
<rect x="88.00" y="508.25" width="35.55" height="10.43" fill="#e0e0ff"/>
<rect x="123.50" y="508.25" width="35.55" height="10.43" fill="#e0e0ff"/>
<rect x="159.00" y="508.25" width="35.45" height="10.43" fill="#e0e0ff"/>
<rect x="194.40" y="508.25" width="35.45" height="10.43" fill="#e0e0ff"/>
<rect x="229.80" y="508.25" width="35.45" height="10.43" fill="#ff0000"/>
<rect x="265.20" y="508.25" width="35.55" height="10.43" fill="#e0e0ff"/>
<rect x="300.70" y="508.25" width="35.45" height="10.43" fill="#e0e0ff"/>
<rect x="336.10" y="508.25" width="35.55" height="10.43" fill="#f1f1ff"/>
<rect x="371.60" y="508.25" width="35.45" height="10.43" fill="#eaeaff"/>
<rect x="407.00" y="508.25" width="35.45" height="10.43" fill="#f5f5ff"/>
<rect x="442.40" y="508.25" width="35.45" height="10.43" fill="#e5e5ff"/>
<rect x="477.80" y="508.25" width="36.15" height="10.43" fill="#e5e5ff"/>
<rect x="88.00" y="518.62" width="35.55" height="10.43" fill="#e0e0ff"/>
<rect x="123.50" y="518.62" width="35.55" height="10.43" fill="#e0e0ff"/>
<rect x="159.00" y="518.62" width="35.45" height="10.43" fill="#e0e0ff"/>
<rect x="194.40" y="518.62" width="35.45" height="10.43" fill="#e0e0ff"/>
<rect x="229.80" y="518.62" width="35.45" height="10.43" fill="#ff0000"/>
<rect x="265.20" y="518.62" width="35.55" height="10.43" fill="#e0e0ff"/>
<rect x="300.70" y="518.62" width="35.45" height="10.43" fill="#e0e0ff"/>
<rect x="336.10" y="518.62" width="35.55" height="10.43" fill="#f1f1ff"/>
<rect x="371.60" y="518.62" width="35.45" height="10.43" fill="#eaeaff"/>
<rect x="407.00" y="518.62" width="35.45" height="10.43" fill="#f1f1ff"/>
<rect x="442.40" y="518.62" width="35.45" height="10.43" fill="#e5e5ff"/>
<rect x="477.80" y="518.62" width="36.15" height="10.43" fill="#e5e5ff"/>
<rect x="88.00" y="529.00" width="35.55" height="10.43" fill="#e0e0ff"/>
<rect x="123.50" y="529.00" width="35.55" height="10.43" fill="#e0e0ff"/>
<rect x="159.00" y="529.00" width="35.45" height="10.43" fill="#e0e0ff"/>
<rect x="194.40" y="529.00" width="35.45" height="10.43" fill="#e0e0ff"/>
<rect x="229.80" y="529.00" width="35.45" height="10.43" fill="#ff0000"/>
<rect x="265.20" y="529.00" width="35.55" height="10.43" fill="#e0e0ff"/>
<rect x="300.70" y="529.00" width="35.45" height="10.43" fill="#e0e0ff"/>
<rect x="336.10" y="529.00" width="35.55" height="10.43" fill="#f1f1ff"/>
<rect x="371.60" y="529.00" width="35.45" height="10.43" fill="#eaeaff"/>
<rect x="407.00" y="529.00" width="35.45" height="10.43" fill="#f1f1ff"/>
<rect x="442.40" y="529.00" width="35.45" height="10.43" fill="#e5e5ff"/>
<rect x="477.80" y="529.00" width="36.15" height="10.43" fill="#e5e5ff"/>
<rect x="88.00" y="539.38" width="35.55" height="10.43" fill="#e0e0ff"/>
<rect x="123.50" y="539.38" width="35.55" height="10.43" fill="#e0e0ff"/>
<rect x="159.00" y="539.38" width="35.45" height="10.43" fill="#e0e0ff"/>
<rect x="194.40" y="539.38" width="35.45" height="10.43" fill="#e0e0ff"/>
<rect x="229.80" y="539.38" width="35.45" height="10.43" fill="#ff0000"/>
<rect x="265.20" y="539.38" width="35.55" height="10.43" fill="#e0e0ff"/>
<rect x="300.70" y="539.38" width="35.45" height="10.43" fill="#e6e6ff"/>
<rect x="336.10" y="539.38" width="35.55" height="10.43" fill="#f1f1ff"/>
<rect x="371.60" y="539.38" width="35.45" height="10.43" fill="#eaeaff"/>
<rect x="407.00" y="539.38" width="35.45" height="10.43" fill="#f1f1ff"/>
<rect x="442.40" y="539.38" width="35.45" height="10.43" fill="#e5e5ff"/>
<rect x="477.80" y="539.38" width="36.15" height="10.43" fill="#e5e5ff"/>
<rect x="88.00" y="549.75" width="35.55" height="10.43" fill="#e0e0ff"/>
<rect x="123.50" y="549.75" width="35.55" height="10.43" fill="#e0e0ff"/>
<rect x="159.00" y="549.75" width="35.45" height="10.43" fill="#e0e0ff"/>
<rect x="194.40" y="549.75" width="35.45" height="10.43" fill="#e0e0ff"/>
<rect x="229.80" y="549.75" width="35.45" height="10.43" fill="#ff0000"/>
<rect x="265.20" y="549.75" width="35.55" height="10.43" fill="#e0e0ff"/>
<rect x="300.70" y="549.75" width="35.45" height="10.43" fill="#e6e6ff"/>
<rect x="336.10" y="549.75" width="35.55" height="10.43" fill="#f1f1ff"/>
<rect x="371.60" y="549.75" width="35.45" height="10.43" fill="#eaeaff"/>
<rect x="407.00" y="549.75" width="35.45" height="10.43" fill="#f1f1ff"/>
<rect x="442.40" y="549.75" width="35.45" height="10.43" fill="#e5e5ff"/>
<rect x="477.80" y="549.75" width="36.15" height="10.43" fill="#e5e5ff"/>
<rect x="88.00" y="560.12" width="35.55" height="10.43" fill="#e0e0ff"/>
<rect x="123.50" y="560.12" width="35.55" height="10.43" fill="#e0e0ff"/>
<rect x="159.00" y="560.12" width="35.45" height="10.43" fill="#e0e0ff"/>
<rect x="194.40" y="560.12" width="35.45" height="10.43" fill="#e0e0ff"/>
<rect x="229.80" y="560.12" width="35.45" height="10.43" fill="#ff0000"/>
<rect x="265.20" y="560.12" width="35.55" height="10.43" fill="#e0e0ff"/>
<rect x="300.70" y="560.12" width="35.45" height="10.43" fill="#e2e2ff"/>
<rect x="336.10" y="560.12" width="35.55" height="10.43" fill="#f1f1ff"/>
<rect x="371.60" y="560.12" width="35.45" height="10.43" fill="#eaeaff"/>
<rect x="407.00" y="560.12" width="35.45" height="10.43" fill="#f1f1ff"/>
<rect x="442.40" y="560.12" width="35.45" height="10.43" fill="#e5e5ff"/>
<rect x="477.80" y="560.12" width="36.15" height="10.43" fill="#e5e5ff"/>
<rect x="88.00" y="570.50" width="35.55" height="10.43" fill="#e0e0ff"/>
<rect x="123.50" y="570.50" width="35.55" height="10.43" fill="#e0e0ff"/>
<rect x="159.00" y="570.50" width="35.45" height="10.43" fill="#e0e0ff"/>
<rect x="194.40" y="570.50" width="35.45" height="10.43" fill="#e0e0ff"/>
<rect x="229.80" y="570.50" width="35.45" height="10.43" fill="#ff0000"/>
<rect x="265.20" y="570.50" width="35.55" height="10.43" fill="#e0e0ff"/>
<rect x="300.70" y="570.50" width="35.45" height="10.43" fill="#e8e8ff"/>
<rect x="336.10" y="570.50" width="35.55" height="10.43" fill="#f5f5ff"/>
<rect x="371.60" y="570.50" width="35.45" height="10.43" fill="#eaeaff"/>
<rect x="407.00" y="570.50" width="35.45" height="10.43" fill="#f1f1ff"/>
<rect x="442.40" y="570.50" width="35.45" height="10.43" fill="#e5e5ff"/>
<rect x="477.80" y="570.50" width="36.15" height="10.43" fill="#e5e5ff"/>
<rect x="88.00" y="580.88" width="35.55" height="10.43" fill="#e0e0ff"/>
<rect x="123.50" y="580.88" width="35.55" height="10.43" fill="#e0e0ff"/>
<rect x="159.00" y="580.88" width="35.45" height="10.43" fill="#e0e0ff"/>
<rect x="194.40" y="580.88" width="35.45" height="10.43" fill="#e0e0ff"/>
<rect x="229.80" y="580.88" width="35.45" height="10.43" fill="#ff0000"/>
<rect x="265.20" y="580.88" width="35.55" height="10.43" fill="#e0e0ff"/>
<rect x="300.70" y="580.88" width="35.45" height="10.43" fill="#e2e2ff"/>
<rect x="336.10" y="580.88" width="35.55" height="10.43" fill="#f5f5ff"/>
<rect x="371.60" y="580.88" width="35.45" height="10.43" fill="#eaeaff"/>
<rect x="407.00" y="580.88" width="35.45" height="10.43" fill="#f1f1ff"/>
<rect x="442.40" y="580.88" width="35.45" height="10.43" fill="#e5e5ff"/>
<rect x="477.80" y="580.88" width="36.15" height="10.43" fill="#e5e5ff"/>
<rect x="88.00" y="591.25" width="35.55" height="10.43" fill="#e0e0ff"/>
<rect x="123.50" y="591.25" width="35.55" height="10.43" fill="#e0e0ff"/>
<rect x="159.00" y="591.25" width="35.45" height="10.43" fill="#e0e0ff"/>
<rect x="194.40" y="591.25" width="35.45" height="10.43" fill="#e0e0ff"/>
<rect x="229.80" y="591.25" width="35.45" height="10.43" fill="#ff0000"/>
<rect x="265.20" y="591.25" width="35.55" height="10.43" fill="#e0e0ff"/>
<rect x="300.70" y="591.25" width="35.45" height="10.43" fill="#e5e5ff"/>
<rect x="336.10" y="591.25" width="35.55" height="10.43" fill="#f5f5ff"/>
<rect x="371.60" y="591.25" width="35.45" height="10.43" fill="#eaeaff"/>
<rect x="407.00" y="591.25" width="35.45" height="10.43" fill="#f1f1ff"/>
<rect x="442.40" y="591.25" width="35.45" height="10.43" fill="#e5e5ff"/>
<rect x="477.80" y="591.25" width="36.15" height="10.43" fill="#e5e5ff"/>
<rect x="88.00" y="601.62" width="35.55" height="10.43" fill="#e0e0ff"/>
<rect x="123.50" y="601.62" width="35.55" height="10.43" fill="#e0e0ff"/>
<rect x="159.00" y="601.62" width="35.45" height="10.43" fill="#e0e0ff"/>
<rect x="194.40" y="601.62" width="35.45" height="10.43" fill="#e0e0ff"/>
<rect x="229.80" y="601.62" width="35.45" height="10.43" fill="#ff0000"/>
<rect x="265.20" y="601.62" width="35.55" height="10.43" fill="#e0e0ff"/>
<rect x="300.70" y="601.62" width="35.45" height="10.43" fill="#e5e5ff"/>
<rect x="336.10" y="601.62" width="35.55" height="10.43" fill="#f5f5ff"/>
<rect x="371.60" y="601.62" width="35.45" height="10.43" fill="#eaeaff"/>
<rect x="407.00" y="601.62" width="35.45" height="10.43" fill="#f1f1ff"/>
<rect x="442.40" y="601.62" width="35.45" height="10.43" fill="#e5e5ff"/>
<rect x="477.80" y="601.62" width="36.15" height="10.43" fill="#e5e5ff"/>
</g>
<rect x="88.00" y="89.2" width="35.50" height="20.40" fill="#ff8c86"/>
<rect x="123.50" y="89.2" width="35.50" height="20.40" fill="#86b4ff"/>
<rect x="159.00" y="89.2" width="212.60" height="20.40" fill="#ff8c86"/>
<rect x="371.60" y="89.2" width="35.40" height="20.40" fill="#00d25f"/>
<rect x="407.00" y="89.2" width="70.80" height="20.40" fill="#86b4ff"/>
<rect x="477.80" y="89.2" width="36.10" height="20.40" fill="#00d25f"/>
<path d="M87.90,119.19H87.40V129.56H87.90M87.40,124.38H86.80V139.94H87.90M86.80,132.16H86.30V150.31H87.90M87.90,160.69H87.60V171.06H87.90M87.60,165.88H87.30V181.44H87.90M87.90,191.81H87.30V202.19H87.90M87.30,173.66H86.90V197.00H87.30M87.90,212.56H86.80V222.94H87.90M86.90,185.33H84.40V217.75H86.80M86.30,141.23H80.20V201.54H84.40M87.90,233.31H87.50V243.69H87.90M87.50,238.50H87.30V254.06H87.90M87.30,246.28H85.20V264.44H87.90M87.90,274.81H86.80V285.19H87.90M86.80,280.00H85.00V295.56H87.90M85.00,287.78H83.30V305.94H87.90M85.20,255.36H78.70V296.86H83.30M80.20,171.39H72.50V276.11H78.70M87.90,316.31H87.30V326.69H87.90M87.90,337.06H87.30V347.44H87.90M87.30,321.50H84.30V342.25H87.30M87.90,357.81H87.30V368.19H87.90M87.30,363.00H86.30V378.56H87.90M87.90,388.94H86.80V399.31H87.90M86.30,370.78H80.80V394.12H86.80M84.30,331.88H72.20V382.45H80.80M87.90,409.69H87.30V420.06H87.90M87.90,430.44H87.30V440.81H87.90M87.90,451.19H87.00V461.56H87.90M87.00,456.38H86.50V471.94H87.90M87.30,435.62H84.70V464.16H86.50M87.30,414.88H80.10V449.89H84.70M87.90,482.31H86.80V492.69H87.90M87.90,503.06H86.30V513.44H87.90M86.80,487.50H85.10V508.25H86.30M87.90,523.81H86.80V534.19H87.90M87.90,544.56H87.20V554.94H87.90M87.20,549.75H86.80V565.31H87.90M86.80,529.00H83.80V557.53H86.80M87.90,575.69H87.20V586.06H87.90M87.20,580.88H86.50V596.44H87.90M86.50,588.66H84.70V606.81H87.90M83.80,543.27H79.50V597.73H84.70M85.10,497.88H61.90V570.50H79.50M80.10,432.38H57.80V534.19H61.90M72.20,357.16H25.20V483.29H57.80M72.50,223.75H2.00V420.22H25.20" fill="none" stroke="#000" stroke-width="1.6" stroke-linecap="butt"/>
<path d="M105.75,87.90V87.40H141.25V87.90M123.50,87.40V87.30H176.70V87.90M150.10,87.30V87.30H212.10V87.90M181.10,87.30V86.70H247.50V87.90M214.30,86.70V86.60H282.95V87.90M248.62,86.60V79.90H318.40V87.90M283.51,79.90V42.50H353.85V87.90M389.30,87.90V79.40H424.70V87.90M407.00,79.40V71.70H460.10V87.90M433.55,71.70V50.00H495.85V87.90M318.68,42.50V1.90H464.70V50.00" fill="none" stroke="#000" stroke-width="1.6" stroke-linecap="butt"/>
<text class="rl" x="519.0" y="123.58" font-size="11.5">E0F3D0</text>
<text class="rl" x="519.0" y="133.96" font-size="11.5">E1F2D0</text>
<text class="rl" x="519.0" y="144.33" font-size="11.5">E1F0D0</text>
<text class="rl" x="519.0" y="154.71" font-size="11.5">E1F3D0</text>
<text class="rl" x="519.0" y="165.08" font-size="11.5">E0F2D0</text>
<text class="rl" x="519.0" y="175.46" font-size="11.5">E1F1D0</text>
<text class="rl" x="519.0" y="185.83" font-size="11.5">E0F1D0</text>
<text class="rl" x="519.0" y="196.21" font-size="11.5">E1F3D1</text>
<text class="rl" x="519.0" y="206.58" font-size="11.5">E2F0D0</text>
<text class="rl" x="519.0" y="216.96" font-size="11.5">E1F2D1</text>
<text class="rl" x="519.0" y="227.33" font-size="11.5">E2F3D1</text>
<text class="rl" x="519.0" y="237.71" font-size="11.5">E0F2D1</text>
<text class="rl" x="519.0" y="248.08" font-size="11.5">E1F1D1</text>
<text class="rl" x="519.0" y="258.46" font-size="11.5">E2F1D1</text>
<text class="rl" x="519.0" y="268.83" font-size="11.5">E0F3D1</text>
<text class="rl" x="519.0" y="279.21" font-size="11.5">E2F1D0</text>
<text class="rl" x="519.0" y="289.58" font-size="11.5">E2F2D1</text>
<text class="rl" x="519.0" y="299.96" font-size="11.5">E2F2D0</text>
<text class="rl" x="519.0" y="310.33" font-size="11.5">E2F3D0</text>
<text class="rl" x="519.0" y="320.71" font-size="11.5">E0F2D3</text>
<text class="rl" x="519.0" y="331.08" font-size="11.5">E2F1D3</text>
<text class="rl" x="519.0" y="341.46" font-size="11.5">E1F0D3</text>
<text class="rl" x="519.0" y="351.83" font-size="11.5">E2F0D3</text>
<text class="rl" x="519.0" y="362.21" font-size="11.5">E0F0D1</text>
<text class="rl" x="519.0" y="372.58" font-size="11.5">E0F3D3</text>
<text class="rl" x="519.0" y="382.96" font-size="11.5">E0F0D2</text>
<text class="rl" x="519.0" y="393.33" font-size="11.5">E0F0D3</text>
<text class="rl" x="519.0" y="403.71" font-size="11.5">E0F1D3</text>
<text class="rl" x="519.0" y="414.08" font-size="11.5">E0F1D2</text>
<text class="rl" x="519.0" y="424.46" font-size="11.5">E1F0D2</text>
<text class="rl" x="519.0" y="434.83" font-size="11.5">E0F2D2</text>
<text class="rl" x="519.0" y="445.21" font-size="11.5">E1F1D2</text>
<text class="rl" x="519.0" y="455.58" font-size="11.5">E0F0D0</text>
<text class="rl" x="519.0" y="465.96" font-size="11.5">E2F0D1</text>
<text class="rl" x="519.0" y="476.33" font-size="11.5">E0F1D1</text>
<text class="rl" x="519.0" y="486.71" font-size="11.5">E1F3D2</text>
<text class="rl" x="519.0" y="497.08" font-size="11.5">E2F3D2</text>
<text class="rl" x="519.0" y="507.46" font-size="11.5">E1F2D2</text>
<text class="rl" x="519.0" y="517.83" font-size="11.5">E2F2D2</text>
<text class="rl" x="519.0" y="528.21" font-size="11.5">E1F0D1</text>
<text class="rl" x="519.0" y="538.58" font-size="11.5">E2F1D2</text>
<text class="rl" x="519.0" y="548.96" font-size="11.5">E0F3D2</text>
<text class="rl" x="519.0" y="559.33" font-size="11.5">E2F3D3</text>
<text class="rl" x="519.0" y="569.71" font-size="11.5">E2F0D2</text>
<text class="rl" x="519.0" y="580.08" font-size="11.5">E1F2D3</text>
<text class="rl" x="519.0" y="590.46" font-size="11.5">E1F3D3</text>
<text class="rl" x="519.0" y="600.83" font-size="11.5">E2F2D3</text>
<text class="rl" x="519.0" y="611.21" font-size="11.5">E1F1D3</text>
<text transform="translate(100.34,617.6) rotate(90)" font-size="16.4">PAL</text>
<text transform="translate(135.84,617.6) rotate(90)" font-size="16.4">essential</text>
<text transform="translate(171.29,617.6) rotate(90)" font-size="16.4">phenolic</text>
<text transform="translate(206.69,617.6) rotate(90)" font-size="16.4">ferulic acid</text>
<text transform="translate(242.09,617.6) rotate(90)" font-size="16.4">PPO</text>
<text transform="translate(277.54,617.6) rotate(90)" font-size="16.4">flavonoid</text>
<text transform="translate(312.99,617.6) rotate(90)" font-size="16.4">Caffeic acid</text>
<text transform="translate(348.44,617.6) rotate(90)" font-size="16.4">p−comaric</text>
<text transform="translate(383.89,617.6) rotate(90)" font-size="16.4">FW</text>
<text transform="translate(419.29,617.6) rotate(90)" font-size="16.4">thymol</text>
<text transform="translate(454.69,617.6) rotate(90)" font-size="16.4">Carvacrol</text>
<text transform="translate(490.44,617.6) rotate(90)" font-size="16.4">DW</text>
<text x="518.5" y="105.6" font-size="20.0" font-weight="bold">Group</text>
<rect x="580.3" y="87.9" width="17.1" height="247.1" fill="url(#cb)"/>
<text x="603.8" y="101.87" font-size="19.0">3</text>
<text x="603.8" y="140.57" font-size="19.0">2</text>
<text x="603.8" y="179.17" font-size="19.0">1</text>
<text x="603.8" y="218.17" font-size="19.0">0</text>
<text x="603.8" y="257.87" font-size="19.0">−1</text>
<text x="603.8" y="296.67" font-size="19.0">−2</text>
<text x="603.8" y="335.97" font-size="19.0">−3</text>
<text x="629.1" y="101.3" font-size="20.0" font-weight="bold">Group</text>
<rect x="628.8" y="107.20" width="26.3" height="26.25" fill="#00d25f"/>
<text x="660.6" y="127.42" font-size="19.0">A</text>
<rect x="628.8" y="133.37" width="26.3" height="26.25" fill="#ff8c86"/>
<text x="660.6" y="153.59" font-size="19.0">B</text>
<rect x="628.8" y="159.54" width="26.3" height="26.25" fill="#86b4ff"/>
<text x="660.6" y="179.76" font-size="19.0">C</text>
</svg>
</body></html>
